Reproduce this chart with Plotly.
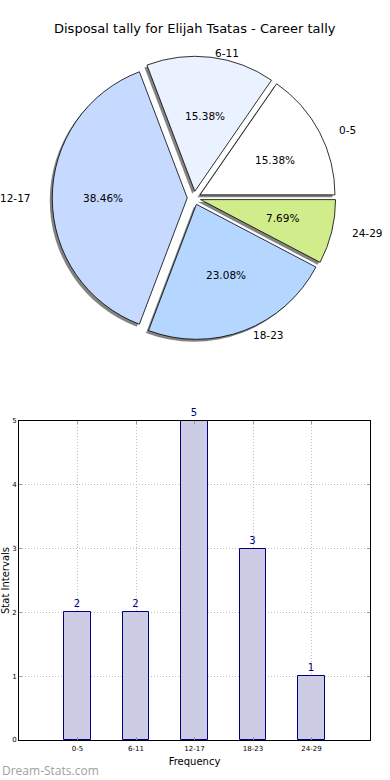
import math
import plotly.graph_objects as go

categories = ["0-5", "6-11", "12-17", "18-23", "24-29"]
counts = [2, 2, 5, 3, 1]
pie_colors = ["#ffffff", "#eaf1ff", "#c6d9ff", "#b5d6ff", "#d1ec8a"]
title_text = "Disposal tally for Elijah Tsatas - Career tally"
y_ticks = [0, 1, 2, 3, 4, 5]

W, H = 390, 780
def fx(x):
    return x / W
def fy(y):
    return 1 - y / H

pull_frac = 0.05
pull = [pull_frac] * len(counts)
total = sum(counts)
start_rot = 90 - 360 * counts[0] / total  # first slice begins at 3 o'clock going CCW

# pie geometry (pixels)
cx, cy, r = 194, 198, 135
rx, ry = 140, 127  # text placement radii
half = r * (1 + pull_frac)
def pie_dom(cx, cy):
    return dict(x=[fx(cx - half), fx(cx + half)], y=[fy(cy + half), fy(cy - half)])

fig = go.Figure()

# shadow
fig.add_trace(go.Pie(
    labels=categories, values=counts, sort=False, direction="counterclockwise",
    rotation=start_rot, pull=pull, domain=pie_dom(cx - 2.5, cy + 2.5),
    marker=dict(colors=["rgba(100,100,100,0.8)"] * 5, line=dict(width=0)),
    textinfo="none", hoverinfo="skip", showlegend=False))

# main pie
fig.add_trace(go.Pie(
    labels=categories, values=counts, sort=False, direction="counterclockwise",
    rotation=start_rot, pull=pull, domain=pie_dom(cx, cy),
    marker=dict(colors=pie_colors, line=dict(color="#000000", width=0.8)),
    textinfo="none", showlegend=False))

# label / percentage placement derived from the data (matplotlib style)
mid_angles = []
acc = 0
for v in counts:
    mid_angles.append(math.radians(360 * (acc + v / 2) / total))
    acc += v
pct_text = [f"{100 * v / total:.2f}%" for v in counts]

txt_font = dict(family="DejaVu Sans", size=10.5, color="#000000")
annotations = []
for a, pt, lab in zip(mid_angles, pct_text, categories):
    c, s = math.cos(a), math.sin(a)
    annotations.append(dict(
        text=pt, xref="x2", yref="y2",
        x=(0.6 + pull_frac) * c, y=(0.6 + pull_frac) * s,
        xanchor="center", yanchor="middle", showarrow=False, font=txt_font))
    annotations.append(dict(
        text=lab, xref="x2", yref="y2",
        x=(1.1 + pull_frac) * c, y=(1.1 + pull_frac) * s,
        xanchor="left" if c > 0 else "right", yanchor="middle",
        showarrow=False, font=txt_font))

# bar chart
fig.add_trace(go.Bar(
    x=list(range(len(categories))), y=counts, width=0.45,
    marker=dict(color="#ccccE5", line=dict(color="#000080", width=1)),
    text=[str(c) for c in counts], textposition="outside",
    textfont=dict(family="DejaVu Sans", size=10, color="#000080"),
    cliponaxis=False, showlegend=False, xaxis="x", yaxis="y"))

grid = dict(showgrid=True, gridcolor="#c0c0c0", griddash="1px,2px", gridwidth=1)
hidden = dict(visible=False, showgrid=False, zeroline=False, fixedrange=True)
ext = 1.3

annotations += [
    dict(text=title_text, xref="paper", yref="paper", x=fx(195), y=fy(29),
         xanchor="center", yanchor="middle", showarrow=False,
         font=dict(family="DejaVu Sans", size=13, color="#000000")),
    dict(text="Dream-Stats.com", xref="paper", yref="paper",
         x=fx(0), y=fy(770), xanchor="left", yanchor="middle", showarrow=False,
         font=dict(family="Open Sans", size=12, color="#a0a0a0")),
]

fig.update_layout(
    width=W, height=H, margin=dict(l=0, r=0, t=0, b=0),
    paper_bgcolor="white", plot_bgcolor="rgba(0,0,0,0)",
    font=dict(family="DejaVu Sans", color="#000000"),
    bargap=0,
    xaxis=dict(domain=[fx(19), fx(370)], anchor="y", range=[-1, 5], automargin=False,
               tickmode="array", tickvals=list(range(len(categories))), ticktext=categories,
               tickfont=dict(size=7), showline=True, linecolor="black", linewidth=1, mirror="ticks",
               ticks="inside", ticklen=3, tickcolor="#999", ticklabelstandoff=2,
               zeroline=False,
               title=dict(text="Frequency", font=dict(size=10), standoff=5), **grid),
    yaxis=dict(domain=[fy(740), fy(421)], anchor="x", range=[0, 5], automargin=False,
               tickmode="array", tickvals=y_ticks, tickfont=dict(size=7),
               showline=True, linecolor="black", linewidth=1, mirror="ticks",
               ticks="inside", ticklen=3, tickcolor="#999",
               zeroline=False,
               title=dict(text="Stat Intervals", font=dict(size=10), standoff=2), **grid),
    xaxis2=dict(domain=[fx(cx - ext * rx), fx(cx + ext * rx)], range=[-ext, ext],
                anchor="y2", **hidden),
    yaxis2=dict(domain=[fy(cy + ext * ry), fy(cy - ext * ry)], range=[-ext, ext],
                anchor="x2", **hidden),
    annotations=annotations,
)

fig.write_html("out.html", config={"displayModeBar": False},
               post_script="document.body.style.margin='0px';document.body.style.overflow='hidden';")
